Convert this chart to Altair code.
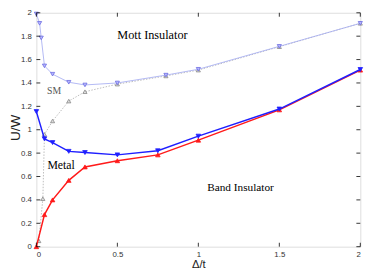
import altair as alt
import pandas as pd

# ---- data ----
x_main = [0.0, 0.05, 0.1, 0.2, 0.3, 0.5, 0.75, 1.0, 1.5, 2.0]
u_c2 = [1.155, 0.922, 0.89, 0.815, 0.805, 0.785, 0.82, 0.945, 1.177, 1.515]   # blue
u_c1 = [0.0, 0.274, 0.40, 0.567, 0.682, 0.735, 0.785, 0.911, 1.17, 1.51]     # red

x_mott = [0.0, 0.02, 0.03, 0.05, 0.1, 0.2, 0.3, 0.5, 0.8, 1.0, 1.5, 2.0]
u_mott = [1.99, 1.91, 1.785, 1.546, 1.475, 1.406, 1.383, 1.40, 1.467, 1.517, 1.713, 1.91]

x_sm = [0.015, 0.04, 0.05, 0.1, 0.2, 0.3, 0.5, 0.8, 1.0, 1.5, 2.0]
u_sm = [0.05, 0.41, 0.96, 1.075, 1.245, 1.325, 1.39, 1.46, 1.51, 1.71, 1.91]

x_ticks = [0, 0.5, 1, 1.5, 2]
y_ticks = [0, 0.2, 0.4, 0.6, 0.8, 1.0, 1.2, 1.4, 1.6, 1.8, 2.0]

labels = ["Mott Insulator", "SM", "Metal", "Band Insulator"]
label_x = [0.5, 0.066, 0.068, 1.055]
label_y = [1.81, 1.33, 0.70, 0.50]
label_size = [12.5, 10, 12, 11.5]
label_color = ["#000000", "#555555", "#000000", "#000000"]

W, H = 331, 239

xs = alt.Scale(domain=[0, 2], nice=False, zero=False)
ys = alt.Scale(domain=[0, 2], nice=False, zero=False)

df_blue = pd.DataFrame({"x": x_main, "y": u_c2, "i": range(len(x_main))})
df_red = pd.DataFrame({"x": x_main, "y": u_c1, "i": range(len(x_main))})
df_mott = pd.DataFrame({"x": x_mott, "y": u_mott, "i": range(len(x_mott))})
df_sm = pd.DataFrame({"x": x_sm, "y": u_sm, "i": range(len(x_sm))})
df_xt = pd.DataFrame({"x": x_ticks})
df_yt = pd.DataFrame({"y": y_ticks})

x_axis = alt.Axis(values=x_ticks, format="~g", ticks=False, domain=False, grid=False,
                  labelOverlap=False,
                  labelFont="Liberation Sans", labelFontSize=8, labelColor="#333333",
                  labelPadding=4, title="Δ/t", titleFont="Liberation Sans",
                  titleFontSize=11.5, titleFontWeight="normal", titleColor="#222222",
                  titleBaseline="top", titleY=12.5)
y_axis = alt.Axis(values=y_ticks, format="~g", ticks=False, domain=False, grid=False,
                  labelOverlap=False,
                  labelFont="Liberation Sans", labelFontSize=8, labelColor="#333333",
                  labelPadding=5, title="U/W", titleFont="Liberation Sans",
                  titleFontSize=14, titleFontWeight="normal", titleColor="#222222",
                  titleAngle=-90, titleBaseline="middle", titleAlign="center",
                  titleX=-21, titleY=117)


def X_():
    return alt.X("x:Q", scale=xs, axis=x_axis, title="Δ/t")


def Y_():
    return alt.Y("y:Q", scale=ys, axis=y_axis, title="U/W")


def series(df, color, width, shape, fill, stroke, dash=None, size=22):
    line_kwargs = dict(color=color, strokeWidth=width)
    if dash:
        line_kwargs["strokeDash"] = dash
    line = alt.Chart(df).mark_line(**line_kwargs).encode(x=X_(), y=Y_(), order="i:Q")
    pts = alt.Chart(df).mark_point(shape=shape, filled=True, fill=fill, stroke=stroke,
                                   strokeWidth=0.8, size=size, opacity=1).encode(
        x=X_(), y=Y_())
    return [line, pts]


layers = []
layers += series(df_sm, "#aaaaaa", 0.8, "triangle-up", "#dddddd", "#888888", dash=[1.5, 1.5], size=18)
layers += series(df_mott, "#aab0f2", 0.9, "triangle-down", "#b8b8ff", "#6a6ae0", size=18)
layers += series(df_red, "#ff1a1a", 1.5, "triangle-up", "#ff1a1a", "#ff1a1a", size=22)
layers += series(df_blue, "#1f1fff", 1.5, "triangle-down", "#1f1fff", "#1f1fff", size=22)

tick_len = 4
xt_bottom = alt.Chart(df_xt).mark_rule(color="black", strokeWidth=0.8).encode(
    x=X_(), y=alt.value(H), y2=alt.value(H - tick_len))
xt_top = alt.Chart(df_xt).mark_rule(color="black", strokeWidth=0.8).encode(
    x=X_(), y=alt.value(0), y2=alt.value(tick_len))
yt_left = alt.Chart(df_yt).mark_rule(color="black", strokeWidth=0.8).encode(
    y=Y_(), x=alt.value(0), x2=alt.value(tick_len))
yt_right = alt.Chart(df_yt).mark_rule(color="black", strokeWidth=0.8).encode(
    y=Y_(), x=alt.value(W), x2=alt.value(W - tick_len))

texts = []
for t, lx, ly, s, c in zip(labels, label_x, label_y, label_size, label_color):
    texts.append(
        alt.Chart(pd.DataFrame({"text": [t], "x": [lx], "y": [ly]})).mark_text(
            font="Liberation Serif", fontSize=s, color=c, align="left", baseline="middle"
        ).encode(x=X_(), y=Y_(), text="text:N")
    )

chart = alt.layer(*layers, xt_bottom, xt_top, yt_left, yt_right, *texts).properties(
    width=W, height=H,
    autosize=alt.AutoSizeParams(type="none"),
    padding={"left": 29, "top": 2, "right": 14, "bottom": 24},
).configure_view(stroke="black", strokeWidth=1).configure(background="white")

chart.save("out.html", embed_options={"renderer": "svg", "actions": False})
